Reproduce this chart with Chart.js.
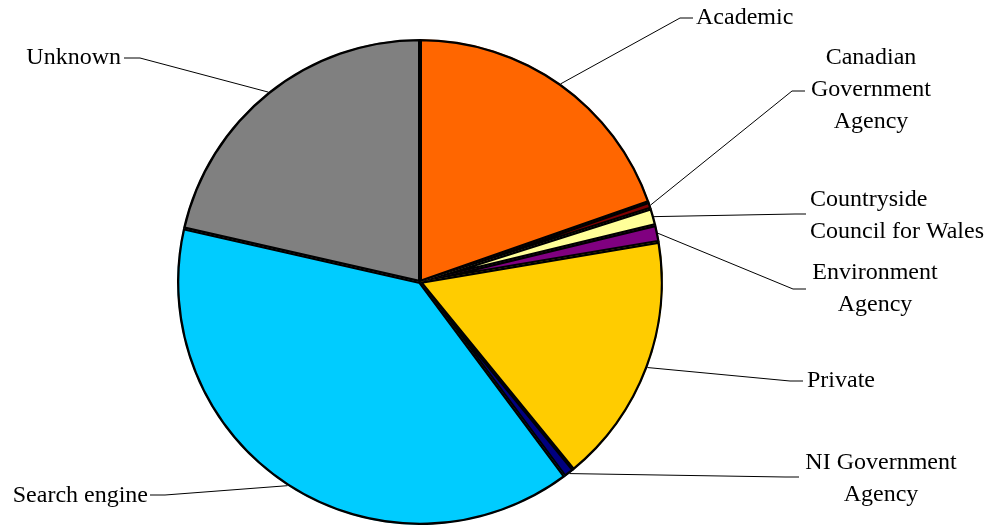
<!DOCTYPE html>
<html>
<head>
<meta charset="utf-8">
<script src="https://cdn.jsdelivr.net/npm/chart.js@4/dist/chart.umd.min.js"></script>
<style>
  html, body { margin: 0; padding: 0; background: #ffffff; }
  #wrap { width: 995px; height: 525px; position: relative; }
</style>
</head>
<body>
<div id="wrap"><canvas id="pie"></canvas></div>
<script>
"use strict";

// Share of referrals by source type (percent)
const sources = [
  "Academic",
  "Canadian Government Agency",
  "Countryside Council for Wales",
  "Environment Agency",
  "Private",
  "NI Government Agency",
  "Search engine",
  "Unknown",
];
const shares = [19.65, 0.45, 1.13, 1.12, 16.75, 0.71, 38.74, 21.45];
const sliceColors = [
  "#ff6600", "#800000", "#ffff99", "#800080",
  "#ffcc00", "#000080", "#00ccff", "#808080",
];

// How each label is written and where its leader line bends
const labelLines = [
  ["Academic"],
  ["Canadian", "Government", "Agency"],
  ["Countryside", "Council for Wales"],
  ["Environment", "Agency"],
  ["Private"],
  ["NI Government", "Agency"],
  ["Search engine"],
  ["Unknown"],
];
const labelLayout = [
  { elbow: [680, 18], end: [693, 18], x: 696, y: 18, align: "left" },
  { elbow: [792, 91], end: [805, 91], x: 871, y: 58, align: "center" },
  { elbow: [795, 214], end: [806, 214], x: 810, y: 200, align: "left" },
  { elbow: [793, 289], end: [806, 289], x: 875, y: 273, align: "center" },
  { elbow: [790, 381], end: [803, 381], x: 807, y: 381, align: "left" },
  { elbow: [785, 477], end: [799, 477], x: 881, y: 463, align: "center" },
  { elbow: [165, 495], end: [150, 495], x: 148, y: 496, align: "right" },
  { elbow: [140, 58], end: [124, 58], x: 121, y: 58, align: "right" },
];
const LINE_HEIGHT = 32;

const leaderLabels = {
  id: "leaderLabels",
  afterDatasetsDraw(chart) {
    const ctx = chart.ctx;
    const meta = chart.getDatasetMeta(0);
    ctx.save();
    ctx.strokeStyle = "#000000";
    ctx.lineWidth = 1;
    ctx.fillStyle = "#000000";
    ctx.font = '24px "Liberation Serif", "Times New Roman", serif';
    ctx.textBaseline = "middle";
    meta.data.forEach((arc, i) => {
      const { x, y, startAngle, endAngle, outerRadius } =
        arc.getProps(["x", "y", "startAngle", "endAngle", "outerRadius"], true);
      const mid = (startAngle + endAngle) / 2;
      const px = x + Math.cos(mid) * outerRadius;
      const py = y + Math.sin(mid) * outerRadius;
      const layout = labelLayout[i];
      ctx.beginPath();
      ctx.moveTo(px, py);
      ctx.lineTo(layout.elbow[0], layout.elbow[1]);
      ctx.lineTo(layout.end[0], layout.end[1]);
      ctx.stroke();
      ctx.textAlign = layout.align;
      labelLines[i].forEach((line, k) => {
        ctx.fillText(line, layout.x, layout.y + k * LINE_HEIGHT);
      });
    });
    ctx.restore();
  },
};

new Chart(document.getElementById("pie"), {
  type: "pie",
  data: {
    labels: sources,
    datasets: [{
      data: shares,
      backgroundColor: sliceColors,
      borderColor: "#000000",
      borderWidth: 2,
      borderAlign: "inner",
      radius: 243,
    }],
  },
  options: {
    responsive: true,
    maintainAspectRatio: false,
    animation: false,
    layout: {
      padding: { left: 0, right: 155, top: 39, bottom: 0 },
    },
    plugins: {
      legend: { display: false },
      tooltip: { enabled: false },
    },
  },
  plugins: [leaderLabels],
});
</script>
</body>
</html>
